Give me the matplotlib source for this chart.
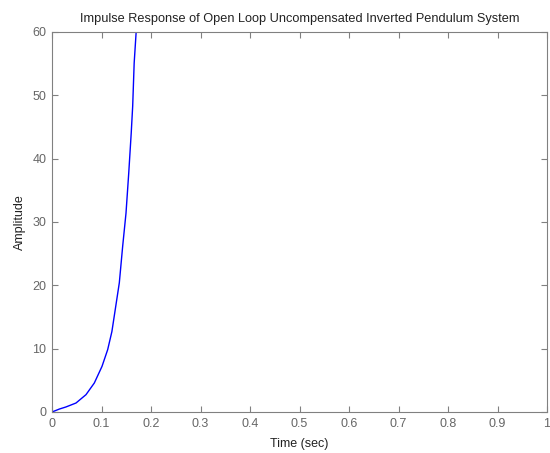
import matplotlib
matplotlib.use("Agg")
import matplotlib.pyplot as plt

# impulse response samples
t = [0.0, 0.015, 0.028, 0.0485, 0.0687, 0.0855, 0.101, 0.1125, 0.121,
     0.136, 0.1428, 0.1495, 0.155, 0.16, 0.163, 0.166, 0.17, 0.175]
amp = [0.0, 0.47, 0.79, 1.42, 2.74, 4.58, 7.2, 9.85, 12.7,
       20.4, 26.2, 31.4, 37.7, 44.0, 48.3, 55.1, 60.0, 68.0]

xticks = [0, 0.1, 0.2, 0.3, 0.4, 0.5, 0.6, 0.7, 0.8, 0.9, 1]
xticklabels = ['0', '0.1', '0.2', '0.3', '0.4', '0.5', '0.6', '0.7', '0.8', '0.9', '1']
yticks = [0, 10, 20, 30, 40, 50, 60]

plt.rcParams['font.family'] = ['Liberation Sans', 'DejaVu Sans']
plt.rcParams['font.size'] = 9

fig = plt.figure(figsize=(5.5, 4.53), dpi=100)
ax = fig.add_axes([52 / 550, 1 - 412 / 453, 495 / 550, 380 / 453])

ax.plot(t, amp, color='#0000ff', linewidth=1.0)

ax.set_xlim(0, 1)
ax.set_ylim(0, 60)
ax.set_xticks(xticks)
ax.set_xticklabels(xticklabels)
ax.set_yticks(yticks)

for s in ax.spines.values():
    s.set_color('#808080')
    s.set_linewidth(0.8)
ax.tick_params(direction='in', length=4, color='#808080', labelcolor='#666666',
               top=True, right=True, labelsize=9, pad=4)

ax.set_title('Impulse Response of Open Loop Uncompensated Inverted Pendulum System',
             fontsize=9.2, pad=7, color='#222222')
ax.set_xlabel('Time (sec)', fontsize=9, labelpad=6, color='#222222')
ax.set_ylabel('Amplitude', fontsize=9, labelpad=5, color='#222222')

fig.savefig('out.png', dpi=100)
